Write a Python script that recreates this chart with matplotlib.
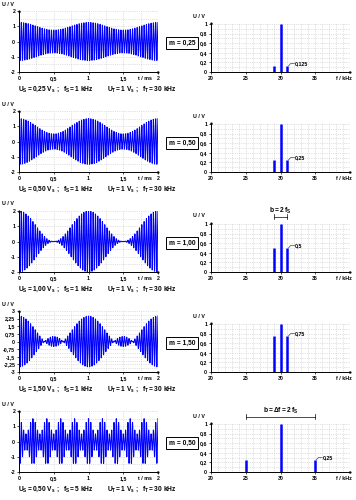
import numpy as np
import matplotlib
matplotlib.use('Agg')
import matplotlib.pyplot as plt
from matplotlib.ticker import MultipleLocator

plt.rcParams['font.family'] = ['Liberation Sans', 'DejaVu Sans']
plt.rcParams['mathtext.fontset'] = 'custom'
plt.rcParams['mathtext.rm'] = 'Liberation Sans'
plt.rcParams['mathtext.bf'] = 'Liberation Sans:bold'
plt.rcParams['mathtext.it'] = 'Liberation Sans:italic'

# ---- data ----
m_labels = ['0,25', '0,50', '1,00', '1,50', '0,50']
U_S = [0.25, 0.50, 1.00, 1.50, 0.50]
U_S_labels = ['0,25', '0,50', '1,00', '1,50', '0,50']
f_S = [1, 1, 1, 1, 5]
U_T = 1.0
f_T = 30
side_amp = [0.125, 0.25, 0.5, 0.75, 0.25]
side_labels = ['0,125', '0,25', '0,5', '0,75', '0,25']
bw_text = [None, None, r'$\mathbf{b = 2\ f_S}$', None, r'$\mathbf{b = \Delta f = 2\ f_S}$']

ytick_std = [-2, -1, 0, 1, 2]
ytick_std_lab = ['-2', '-1', '0', '1', '2']
ytick_big = [-3, -2.25, -1.5, -0.75, 0, 0.75, 1.5, 2.25, 3]
ytick_big_lab = ['-3', '-2,25', '-1,5', '-0,75', '0', '0,75', '1,5', '2,25', '3']
xtick_t = [0, 0.5, 1, 1.5, 2]
xtick_t_lab = ['0', '0,5', '1', '1,5', '2']
xtick_f = [20, 25, 30, 35]
xtick_f_lab = ['20', '25', '30', '35']
ytick_f = [0, 0.2, 0.4, 0.6, 0.8, 1.0]
ytick_f_lab = ['0', '0,2', '0,4', '0,6', '0,8', '1']

W, H = 356, 500
fig = plt.figure(figsize=(W / 100, H / 100), dpi=100)
fig.patch.set_facecolor('white')

def px_axes(x0, y0, x1, y1):
    return fig.add_axes([x0 / W, 1 - y1 / H, (x1 - x0) / W, (y1 - y0) / H])

BLUE = '#0000ff'
GRID = '#c4c4c4'
TFS = 3.8

def style(ax):
    for s in ['top', 'right']:
        ax.spines[s].set_visible(False)
    for s in ['left', 'bottom']:
        ax.spines[s].set_linewidth(0.7)
    ax.tick_params(axis='both', labelsize=TFS, length=1.5, width=0.5, pad=1.2)
    ax.tick_params(which='minor', length=0)
    ax.grid(True, which='both', color=GRID, linestyle=':', linewidth=0.5)
    ax.set_axisbelow(True)
    ax.plot(1, 0, '>k', transform=ax.transAxes, clip_on=False, markersize=1.0)
    ax.plot(0, 1, '^k', transform=ax.transAxes, clip_on=False, markersize=1.0)

t = np.linspace(0, 2, 6001)
offsets = [0, 100, 200, 300, 400]

for i, off in enumerate(offsets):
    # ---- time signal ----
    ax = px_axes(19, off + 11, 158, off + 72)
    u = (U_T + U_S[i] * np.cos(2 * np.pi * f_S[i] * t)) * np.cos(2 * np.pi * f_T * t)
    ax.plot(t, u, color=BLUE, linewidth=0.75)
    ax.set_xlim(0, 2)
    if i == 3:
        ax.set_ylim(-3, 3)
        ax.set_yticks(ytick_big)
        ax.set_yticklabels(ytick_big_lab)
        ax.yaxis.set_minor_locator(MultipleLocator(0.375))
    else:
        ax.set_ylim(-2, 2)
        ax.set_yticks(ytick_std)
        ax.set_yticklabels(ytick_std_lab)
        ax.yaxis.set_minor_locator(MultipleLocator(0.5))
    ax.set_xticks(xtick_t)
    ax.set_xticklabels(xtick_t_lab)
    ax.xaxis.set_minor_locator(MultipleLocator(0.25))
    style(ax)
    for lab in ax.get_yticklabels() + ax.get_xticklabels():
        lab.set_fontweight('bold')
    fig.text(2 / W, 1 - (off + 4) / H, 'U / V', fontsize=TFS, fontweight='bold', va='center')
    fig.text(138 / W, 1 - (off + 78.5) / H, 't / ms', fontsize=TFS, fontweight='bold', va='center')

    cap1 = r'$\mathbf{U_S = %s\ V_s\ ;\ \ f_S = %d\ kHz}$' % (U_S_labels[i].replace(',', '{,}'), f_S[i])
    cap2 = r'$\mathbf{U_T = 1\ V_s\ ;\ \ f_T = %d\ kHz}$' % f_T
    fig.text(18 / W, 1 - (off + 89) / H, cap1, fontsize=4.8, va='center')
    fig.text(107 / W, 1 - (off + 89) / H, cap2, fontsize=4.8, va='center')

    # ---- m label ----
    fig.text(182 / W, 1 - (off + 43) / H, 'm = ' + m_labels[i], fontsize=4.8, fontweight='bold',
             ha='center', va='center',
             bbox=dict(boxstyle='square,pad=0.35', facecolor='white', edgecolor='black', linewidth=0.7))

    # ---- spectrum ----
    sx = px_axes(211, off + 23, 350, off + 72)
    freqs = [f_T - f_S[i], f_T, f_T + f_S[i]]
    amps = [side_amp[i], 1.0, side_amp[i]]
    sx.vlines(freqs, 0, amps, color=BLUE, linewidth=1.8)
    sx.set_xlim(20, 40)
    sx.set_ylim(0, 1.02)
    sx.set_xticks(xtick_f)
    sx.set_xticklabels(xtick_f_lab)
    sx.set_yticks(ytick_f)
    sx.set_yticklabels(ytick_f_lab)
    sx.xaxis.set_minor_locator(MultipleLocator(1))
    sx.yaxis.set_minor_locator(MultipleLocator(0.1))
    style(sx)
    for lab in sx.get_yticklabels() + sx.get_xticklabels():
        lab.set_fontweight('bold')
    fig.text(193 / W, 1 - (off + 16) / H, 'U / V', fontsize=TFS, fontweight='bold', va='center')
    fig.text(336 / W, 1 - (off + 79) / H, 'f / kHz', fontsize=TFS, fontweight='bold', va='center')

    fx = freqs[2]
    a = amps[2]
    sx.plot([fx + 0.15, fx + 0.45, fx + 1.0], [a, a + 0.05, a + 0.05], color='#444444', linewidth=0.5,
            clip_on=False)
    sx.text(fx + 1.05, a + 0.05, side_labels[i], fontsize=TFS, fontweight='bold', va='center')

    if bw_text[i] is not None:
        yb = 1.15
        sx.plot([freqs[0], freqs[2]], [yb, yb], color='black', linewidth=0.5, clip_on=False)
        for fb in (freqs[0], freqs[2]):
            sx.plot([fb, fb], [yb - 0.05, yb + 0.05], color='black', linewidth=0.5, clip_on=False)
        sx.text(f_T, yb + 0.13, bw_text[i], fontsize=4.8, ha='center', va='center')

fig.savefig('out.png', dpi=100)
